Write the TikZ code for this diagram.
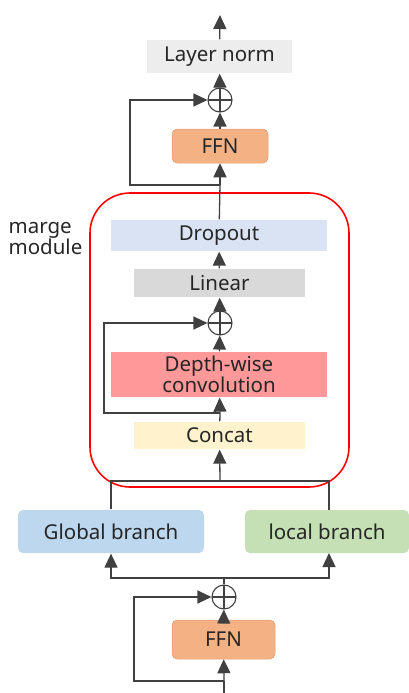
\documentclass[tikz,border=0pt]{standalone}
\usepackage{fontspec}
\setmainfont{Noto Sans}
\usetikzlibrary{arrows.meta}

\definecolor{txt}{HTML}{262626}
\definecolor{ln}{HTML}{404040}
\definecolor{normc}{HTML}{EDEDED}
\definecolor{ffnc}{HTML}{F4B183}
\definecolor{dropc}{HTML}{DAE3F3}
\definecolor{linc}{HTML}{D9D9D9}
\definecolor{dwc}{HTML}{FF9999}
\definecolor{catc}{HTML}{FFF2CC}
\definecolor{globc}{HTML}{BDD7EE}
\definecolor{locc}{HTML}{C5E0B4}

\begin{document}
\begin{tikzpicture}[x=1pt, y=-1pt,
    line width=1.3pt, draw=ln,
    arr/.style={-{Triangle[length=14pt, width=13pt]}},
    box/.style={inner sep=0pt, text=txt, font=\fontsize{20.5}{23}\selectfont, align=center},
    rbox/.style={box, rounded corners=5pt},
    add/.style={circle, draw=ln, line width=1.1pt, minimum size=24pt, inner sep=0pt,
        path picture={\draw[line width=1.1pt, ln] (path picture bounding box.north) -- (path picture bounding box.south)
            (path picture bounding box.west) -- (path picture bounding box.east);}}]
    \useasboundingbox (0,0) rectangle (409,693);
    %
    \node [box, fill=normc, minimum width=145pt, minimum height=33pt] (norm) at (219.5,56.5) {Layer norm};
    \node [add] (add1) at (220,100) {};
    \node [rbox, fill=ffnc, draw=ffnc!90!black, line width=0.5pt, minimum width=96pt, minimum height=34pt] (ffn1) at (220,146) {FFN};
    \coordinate (top) at (220,15);
    \coordinate (s1) at (220,185);
    %
    \draw [red, line width=1.6pt, rounded corners=40pt] (90,193) rectangle (349,487);
    \node [anchor=north west, box, align=left, text width=90pt] (mm) at (8,222) {marge\\[-2pt]module};
    %
    \node [box, fill=dropc, minimum width=216pt, minimum height=31pt] (drop) at (219,235.5) {Dropout};
    \node [box, fill=linc, minimum width=171pt, minimum height=28pt] (lin) at (219.5,283) {Linear};
    \node [add] (add2) at (220,323) {};
    \node [box, fill=dwc, minimum width=216pt, minimum height=45pt] (dw) at (219,374.5) {Depth-wise\\[-2pt]convolution};
    \node [box, fill=catc, minimum width=171pt, minimum height=27pt] (cat) at (219.5,435.5) {Concat};
    \coordinate (s2) at (220,413);
    \coordinate (m) at (220,481);
    %
    \node [rbox, fill=globc, minimum width=186pt, minimum height=43pt] (glob) at (111,531.5) {Global branch};
    \node [rbox, fill=locc, minimum width=164pt, minimum height=43pt] (loc) at (327,531.5) {local branch};
    \coordinate (j) at (224,578);
    \node [add] (add3) at (224,597) {};
    \node [rbox, fill=ffnc, draw=ffnc!90!black, line width=0.5pt, minimum width=103pt, minimum height=39pt] (ffn2) at (223.5,639.5) {FFN};
    \coordinate (s3) at (224,681);
    \coordinate (bot) at (224,693);
    %
    \draw [arr] (norm) -- (top);
    \draw [arr] (add1) -- (norm);
    \draw [arr] (ffn1) -- (add1);
    \draw [arr] (s1) -- (ffn1);
    \draw [arr] (s1) -- (130,185) |- (add1);
    \draw (drop) -- (s1);
    \draw [arr] (lin) -- (drop);
    \draw [arr] (add2) -- (lin);
    \draw [arr] (dw) -- (add2);
    \draw [arr] (s2) -- (dw);
    \draw [arr] (s2) -- (104,413) |- (add2);
    \draw (cat) -- (s2);
    \draw [arr] (m) -- (cat);
    \draw (glob.north) |- (m) -| (329,510);
    \draw (add3) -- (j);
    \draw [arr] (j) -| (glob.south);
    \draw [arr] (j) -| (329,553);
    \draw [arr] (ffn2) -- (add3);
    \draw [arr] (s3) -- (ffn2);
    \draw [arr] (s3) -- (134,681) |- (add3);
    \draw (bot) -- (s3);
\end{tikzpicture}
\end{document}
